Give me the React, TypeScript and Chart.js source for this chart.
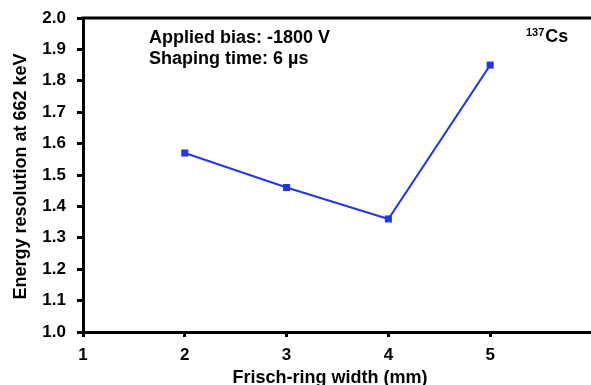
import React, { useEffect, useRef } from "react";
import { Chart, registerables } from "chart.js";

Chart.register(...registerables);

const widths = [2, 3, 4, 5];
const resolution = [1.57, 1.46, 1.36, 1.85];
const xTicks = [1, 2, 3, 4, 5];
const yTicks = [1.0, 1.1, 1.2, 1.3, 1.4, 1.5, 1.6, 1.7, 1.8, 1.9, 2.0];
const xTitle = "Frisch-ring width (mm)";
const yTitle = "Energy resolution at 662 keV";
const noteLines = ["Applied bias: -1800 V", "Shaping time: 6 µs"];
const sourceMass = "137";
const sourceName = "Cs";

const FONT = "'Liberation Sans', Arial, sans-serif";
const BLUE = "#2337e6";

const annotations = {
  id: "annotations",
  afterDraw(chart: any) {
    const { ctx, chartArea } = chart;
    ctx.save();
    // top border
    ctx.strokeStyle = "#000";
    ctx.lineWidth = 3;
    ctx.beginPath();
    ctx.moveTo(chartArea.left - 1.5, chartArea.top);
    ctx.lineTo(chartArea.right, chartArea.top);
    ctx.stroke();
    ctx.fillStyle = "#000";
    ctx.textBaseline = "alphabetic";
    ctx.textAlign = "left";
    ctx.font = `bold 18px ${FONT}`;
    ctx.fillText(noteLines[0], 149, 43);
    ctx.fillText(noteLines[1], 149, 64);
    ctx.font = `bold 11px ${FONT}`;
    ctx.fillText(sourceMass, 526, 36);
    const w = ctx.measureText(sourceMass).width;
    ctx.font = `bold 18px ${FONT}`;
    ctx.fillText(sourceName, 526 + w + 1, 42);
    // axis titles
    ctx.textAlign = "center";
    ctx.fillText(xTitle, 330, 383);
    ctx.translate(26, 176.5);
    ctx.rotate(-Math.PI / 2);
    ctx.fillText(yTitle, 0, 0);
    ctx.restore();
  },
};

export default function App() {
  const ref = useRef<HTMLCanvasElement | null>(null);
  useEffect(() => {
    document.body.style.margin = "0";
    document.body.style.overflow = "hidden";
    const chart = new Chart(ref.current!, {
      type: "line",
      data: {
        datasets: [
          {
            data: widths.map((x, i) => ({ x, y: resolution[i] })),
            borderColor: BLUE,
            backgroundColor: BLUE,
            borderWidth: 2,
            pointStyle: "rect",
            pointRadius: 5,
            pointBorderWidth: 0,
            tension: 0,
          },
        ],
      },
      options: {
        responsive: false,
        animation: false,
        layout: { padding: { top: 18, left: 0, right: 0, bottom: 0 } },
        plugins: { legend: { display: false }, tooltip: { enabled: false } },
        scales: {
          x: {
            type: "linear",
            min: 1,
            max: 6,
            afterBuildTicks: (s: any) => {
              s.ticks = xTicks.map((v) => ({ value: v }));
            },
            afterFit: (s: any) => {
              s.height = 53;
              s.paddingLeft = 0;
              s.paddingRight = 0;
            },
            ticks: {
              color: "#000",
              font: { family: FONT, size: 17, weight: "bold" },
              padding: 8,
              maxRotation: 0,
            },
            grid: {
              drawOnChartArea: false,
              drawTicks: true,
              tickLength: 5,
              tickWidth: 3,
              tickColor: "#000",
            },
            border: { display: true, color: "#000", width: 3 },
            title: { display: false },
          },
          y: {
            type: "linear",
            min: 1,
            max: 2,
            afterBuildTicks: (s: any) => {
              s.ticks = yTicks.map((v) => ({ value: v }));
            },
            afterFit: (s: any) => {
              s.width = 83;
              s.paddingTop = 0;
              s.paddingBottom = 0;
            },
            ticks: {
              color: "#000",
              font: { family: FONT, size: 17, weight: "bold" },
              padding: 11,
              callback: (v: any) => Number(v).toFixed(1),
            },
            grid: {
              drawOnChartArea: false,
              drawTicks: true,
              tickLength: 6,
              tickWidth: 3,
              tickColor: "#000",
            },
            border: { display: true, color: "#000", width: 3 },
            title: { display: false },
          },
        },
      },
      plugins: [annotations],
    });
    return () => chart.destroy();
  }, []);
  return (
    <div style={{ width: 591, height: 385, overflow: "hidden", position: "relative" }}>
      <canvas ref={ref} width={597} height={385} style={{ display: "block" }} />
    </div>
  );
}
